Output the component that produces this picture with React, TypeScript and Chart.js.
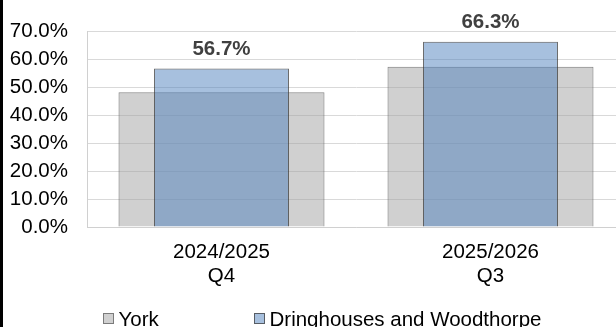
import { useEffect, useRef } from "react";
import { Chart, registerables } from "chart.js";

Chart.register(...registerables);

const categories = [
  ["2024/2025", "Q4"],
  ["2025/2026", "Q3"],
];
const seriesNames = ["York", "Dringhouses and Woodthorpe"];
const yorkValues = [48.2, 57.3];
const wardValues = [56.7, 66.3];
const yMin = 0;
const yMax = 70;
const yStep = 10;

const FONT = '"Liberation Sans", Arial, sans-serif';
const FONT_SIZE = 20.5;

export default function App() {
  const ref = useRef<HTMLCanvasElement | null>(null);

  useEffect(() => {
    const canvas = ref.current;
    if (!canvas) return;

    const dataLabels = {
      id: "dataLabels",
      afterDatasetsDraw(chart: any) {
        const ctx = chart.ctx;
        const meta = chart.getDatasetMeta(1);
        ctx.save();
        ctx.font = `bold ${FONT_SIZE}px ${FONT}`;
        ctx.fillStyle = "#404040";
        ctx.textAlign = "center";
        ctx.textBaseline = "alphabetic";
        meta.data.forEach((el: any, i: number) => {
          ctx.fillText(wardValues[i].toFixed(1) + "%", el.x, el.y - 13.5);
        });
        ctx.restore();
      },
    };

    const legendStarts = [103, 254];
    const customLegend = {
      id: "customLegend",
      afterDraw(chart: any) {
        const ctx = chart.ctx;
        ctx.save();
        ctx.font = `${FONT_SIZE}px ${FONT}`;
        ctx.textAlign = "left";
        ctx.textBaseline = "alphabetic";
        chart.data.datasets.forEach((ds: any, i: number) => {
          const x = legendStarts[i];
          const y = 313;
          ctx.fillStyle = "#ffffff";
          ctx.fillRect(x, y, 11, 11);
          ctx.fillStyle = ds.backgroundColor;
          ctx.fillRect(x, y, 11, 11);
          ctx.strokeStyle = ds.borderColor;
          ctx.lineWidth = 1;
          ctx.strokeRect(x + 0.5, y + 0.5, 10, 10);
          ctx.fillStyle = "#000000";
          ctx.fillText(ds.label, x + 15.5, 326);
        });
        ctx.restore();
      },
    };

    const chart = new Chart(canvas, {
      type: "bar",
      data: {
        labels: categories,
        datasets: [
          {
            label: seriesNames[0],
            data: yorkValues,
            backgroundColor: "rgba(162,162,162,0.5)",
            borderColor: "rgba(95,95,95,0.75)",
            borderWidth: 1,
            barPercentage: 0.766,
            categoryPercentage: 1,
            grouped: false,
            order: 2,
          },
          {
            label: seriesNames[1],
            data: wardValues,
            backgroundColor: "rgba(79,129,189,0.5)",
            borderColor: "rgba(60,60,60,0.75)",
            borderWidth: 1,
            barPercentage: 0.502,
            categoryPercentage: 1,
            grouped: false,
            order: 1,
          },
        ],
      },
      options: {
        responsive: false,
        animation: false,
        devicePixelRatio: 1,
        layout: { padding: { top: 29, left: 0, right: 0, bottom: 0 } },
        plugins: {
          legend: { display: false },
          tooltip: { enabled: false },
        },
        scales: {
          x: {
            grid: { display: false, drawTicks: false },
            border: { display: true, color: "#D0D0D0", width: 1 },
            ticks: {
              color: "#000000",
              font: { family: FONT, size: FONT_SIZE, lineHeight: 1.15 },
              padding: 14,
              maxRotation: 0,
              autoSkip: false,
            },
            afterFit: (s: any) => {
              s.height = 100;
            },
          },
          y: {
            min: yMin,
            max: yMax,
            ticks: {
              stepSize: yStep,
              color: "#000000",
              font: { family: FONT, size: FONT_SIZE },
              padding: 19,
              callback: (v: any) => Number(v).toFixed(1) + "%",
            },
            grid: { color: "#D9D9D9", drawTicks: false },
            border: { display: true, color: "#D0D0D0", width: 1 },
            afterFit: (s: any) => {
              s.width = 87;
            },
          },
        },
      },
      plugins: [dataLabels, customLegend],
    });

    return () => chart.destroy();
  }, []);

  return (
    <div
      style={{
        position: "fixed",
        top: 0,
        left: 0,
        width: 616,
        height: 327,
        overflow: "hidden",
        background: "#ffffff",
      }}
    >
      <canvas
        ref={ref}
        width={625}
        height={327}
        style={{ position: "absolute", left: 0, top: 0, display: "block" }}
      />
      <div
        style={{
          position: "absolute",
          left: 0,
          top: 0,
          width: 3,
          height: 327,
          background: "#000000",
        }}
      />
    </div>
  );
}
